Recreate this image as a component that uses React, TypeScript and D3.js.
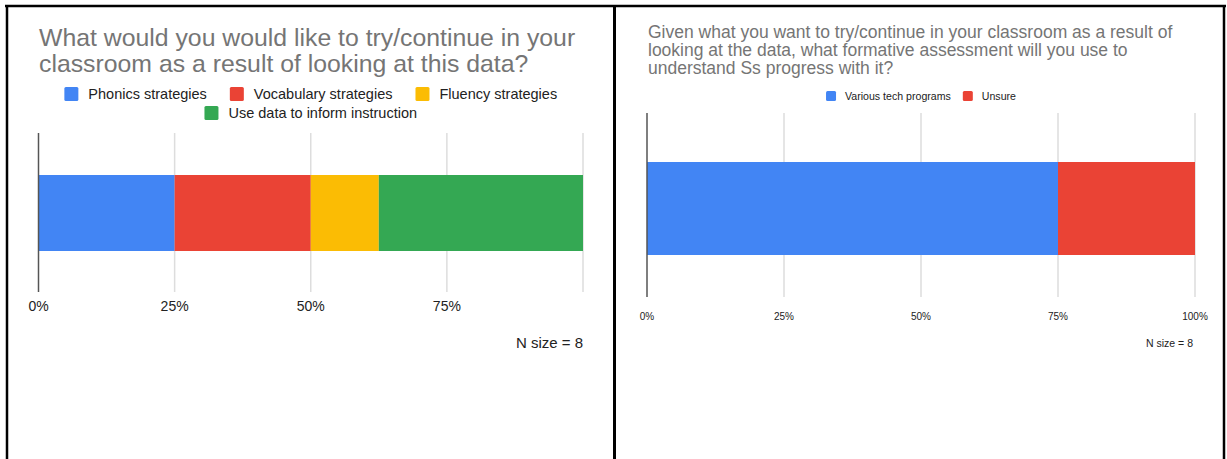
import React from "react";
import * as d3 from "d3";

// ---- Data ----
const leftTitle = [
  "What would you would like to try/continue in your",
  "classroom as a result of looking at this data?",
];
const leftCategories = [
  "Phonics strategies",
  "Vocabulary strategies",
  "Fluency strategies",
  "Use data to inform instruction",
];
const leftCounts = [2, 2, 1, 3];
const leftColors = ["#4285F4", "#EA4335", "#FBBC04", "#34A853"];
const leftTickLabels = ["0%", "25%", "50%", "75%"];
const leftLegendRows = [[0, 1, 2], [3]];

const rightTitle = [
  "Given what you want to try/continue in your classroom as a result of",
  "looking at the data, what formative assessment will you use to",
  "understand Ss progress with it?",
];
const rightCategories = ["Various tech programs", "Unsure"];
const rightCounts = [6, 2];
const rightColors = ["#4285F4", "#EA4335"];
const rightTickLabels = ["0%", "25%", "50%", "75%", "100%"];
const rightLegendRows = [[0, 1]];

const tickValues = [0, 0.25, 0.5, 0.75, 1];
const nSizeLabel = "N size = 8";

const FONT = "'Liberation Sans', Arial, Helvetica, sans-serif";

let ctx: CanvasRenderingContext2D | null = null;
function measure(text: string, size: number): number {
  if (!ctx) ctx = document.createElement("canvas").getContext("2d");
  if (!ctx) return text.length * size * 0.5;
  ctx.font = `${size}px ${FONT}`;
  return ctx.measureText(text).width;
}

type ChartProps = {
  title: string[];
  titleSize: number;
  titleX: number;
  titleY0: number;
  titleLH: number;
  cats: string[];
  counts: number[];
  colors: string[];
  legendRows: number[][];
  legendY0: number;
  legendLH: number;
  legendSize: number;
  swatch: number;
  swatchGap: number;
  itemGap: number;
  x0: number;
  x1: number;
  gridTop: number;
  gridBottom: number;
  barTop: number;
  barBottom: number;
  tickLabels: string[];
  tickSize: number;
  tickY: number;
  nX: number;
  nY: number;
  nSize: number;
};

function StackedChart(p: ChartProps) {
  const total = d3.sum(p.counts);
  const x = d3.scaleLinear().domain([0, 1]).range([p.x0, p.x1]);
  const y = d3
    .scaleBand()
    .domain(["row"])
    .range([p.barTop, p.barBottom])
    .padding(0);
  const series = d3
    .stack<number[]>()
    .keys(p.cats.map((_, i) => String(i)))
    .value((d, k) => d[+k] / total)([p.counts]);
  const center = (p.x0 + p.x1) / 2;

  return (
    <g>
      {p.title.map((t, i) => (
        <text
          key={i}
          x={p.titleX}
          y={p.titleY0 + i * p.titleLH}
          fontSize={p.titleSize}
          fill="#757575"
          fontFamily={FONT}
        >
          {t}
        </text>
      ))}
      {p.legendRows.map((row, ri) => {
        const widths = row.map(
          (ci) => p.swatch + p.swatchGap + measure(p.cats[ci], p.legendSize)
        );
        const totalW = d3.sum(widths) + p.itemGap * (row.length - 1);
        let cx = center - totalW / 2;
        const cy = p.legendY0 + ri * p.legendLH;
        return row.map((ci, k) => {
          const sx = cx;
          cx += widths[k] + p.itemGap;
          return (
            <g key={`${ri}-${ci}`}>
              <rect
                x={sx}
                y={cy - p.swatch / 2}
                width={p.swatch}
                height={p.swatch}
                rx={1.5}
                fill={p.colors[ci]}
              />
              <text
                x={sx + p.swatch + p.swatchGap}
                y={cy}
                dy="0.35em"
                fontSize={p.legendSize}
                fill="#222"
                fontFamily={FONT}
              >
                {p.cats[ci]}
              </text>
            </g>
          );
        });
      })}
      {tickValues.map((t, i) =>
        i === 0 ? null : (
          <line
            key={`g${i}`}
            x1={x(t)}
            x2={x(t)}
            y1={p.gridTop}
            y2={p.gridBottom}
            stroke="#dddddd"
            strokeWidth={1.5}
          />
        )
      )}
      {series.map((s, i) => (
        <rect
          key={`b${i}`}
          x={x(s[0][0])}
          y={y("row")}
          width={x(s[0][1]) - x(s[0][0])}
          height={y.bandwidth()}
          fill={p.colors[i]}
        />
      ))}
      <line
        x1={x(0)}
        x2={x(0)}
        y1={p.gridTop}
        y2={p.gridBottom}
        stroke="#555"
        strokeWidth={1.5}
      />
      {p.tickLabels.map((l, i) => (
        <text
          key={`t${i}`}
          x={x(tickValues[i])}
          y={p.tickY}
          dy="0.35em"
          textAnchor="middle"
          fontSize={p.tickSize}
          fill="#222"
          fontFamily={FONT}
        >
          {l}
        </text>
      ))}
      <text
        x={p.nX}
        y={p.nY}
        dy="0.35em"
        textAnchor="end"
        fontSize={p.nSize}
        fill="#222"
        fontFamily={FONT}
      >
        {nSizeLabel}
      </text>
    </g>
  );
}

export default function App() {
  const W = 1227;
  const H = 459;
  return (
    <svg
      width={W}
      height={H}
      style={{ position: "absolute", left: 0, top: 0, background: "#fff" }}
    >
      <rect x={0} y={0} width={W} height={H} fill="#fff" />
      <StackedChart
        title={leftTitle}
        titleSize={24.8}
        titleX={39}
        titleY0={46}
        titleLH={26}
        cats={leftCategories}
        counts={leftCounts}
        colors={leftColors}
        legendRows={leftLegendRows}
        legendY0={94}
        legendLH={19}
        legendSize={14.5}
        swatch={14}
        swatchGap={10}
        itemGap={23}
        x0={38.5}
        x1={583}
        gridTop={133}
        gridBottom={292}
        barTop={175}
        barBottom={251}
        tickLabels={leftTickLabels}
        tickSize={14}
        tickY={306}
        nX={583}
        nY={343}
        nSize={15}
      />
      <StackedChart
        title={rightTitle}
        titleSize={17.5}
        titleX={648}
        titleY0={38}
        titleLH={18}
        cats={rightCategories}
        counts={rightCounts}
        colors={rightColors}
        legendRows={rightLegendRows}
        legendY0={96}
        legendLH={14}
        legendSize={10.6}
        swatch={10}
        swatchGap={9}
        itemGap={12}
        x0={647}
        x1={1195}
        gridTop={113}
        gridBottom={297}
        barTop={162}
        barBottom={255}
        tickLabels={rightTickLabels}
        tickSize={10}
        tickY={316}
        nX={1193}
        nY={343}
        nSize={10.5}
      />
      {/* frame */}
      <line x1={5} x2={1226} y1={6} y2={6} stroke="#000" strokeWidth={2.5} />
      <line x1={7} x2={7} y1={5} y2={H} stroke="#000" strokeWidth={2.5} />
      <line x1={614.5} x2={614.5} y1={5} y2={H} stroke="#000" strokeWidth={3} />
      <line x1={1224} x2={1224} y1={5} y2={H} stroke="#000" strokeWidth={2.5} />
    </svg>
  );
}
